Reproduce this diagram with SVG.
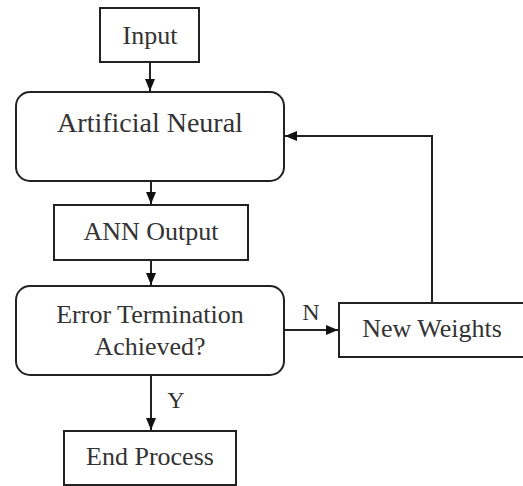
<svg xmlns="http://www.w3.org/2000/svg" width="523" height="486" viewBox="0 0 523 486">
<style>
.box{fill:#fff;stroke:#222;stroke-width:2}
.t{font-family:'Liberation Serif','DejaVu Serif','Times New Roman',serif;font-size:26px;fill:#333;text-anchor:middle}
.s{font-size:24px}
.l{font-size:28px}
.c{fill:none;stroke:#222;stroke-width:2}
</style>
<defs>
<marker id="ah" markerWidth="12" markerHeight="10" refX="12" refY="5" orient="auto" markerUnits="userSpaceOnUse">
<path d="M0,0 L12,5 L0,10 Z" fill="#111"/>
</marker>
</defs>
<rect width="523" height="486" fill="#fff"/>
<g id="connectors">
<path class="c" d="M150,62 V91" marker-end="url(#ah)"/>
<path class="c" d="M151,181 V204" marker-end="url(#ah)"/>
<path class="c" d="M151,260 V285" marker-end="url(#ah)"/>
<path class="c" d="M284,330 H338" marker-end="url(#ah)"/>
<path class="c" d="M432,303 V136 H285" marker-end="url(#ah)"/>
<path class="c" d="M151,375 V430" marker-end="url(#ah)"/>
<text class="t s" x="311" y="320">N</text>
<text class="t s" x="176" y="408">Y</text>
</g>
<g id="input">
<rect class="box" x="100" y="8" width="99" height="54"/>
<text class="t" x="150" y="44">Input</text>
</g>
<g id="ann">
<rect class="box" x="16" y="92" width="268" height="89" rx="14"/>
<text class="t l" x="150" y="132">Artificial Neural</text>
</g>
<g id="ann-output">
<rect class="box" x="54" y="205" width="194" height="55"/>
<text class="t" x="151" y="240">ANN Output</text>
</g>
<g id="error">
<rect class="box" x="16" y="286" width="268" height="89" rx="14"/>
<text class="t" x="150" y="323">Error Termination</text>
<text class="t" x="150" y="355">Achieved?</text>
</g>
<g id="new-weights">
<rect class="box" x="339" y="303" width="190" height="54"/>
<text class="t" x="432" y="337">New Weights</text>
</g>
<g id="end">
<rect class="box" x="64" y="431" width="172" height="54"/>
<text class="t" x="150" y="465">End Process</text>
</g>
</svg>
